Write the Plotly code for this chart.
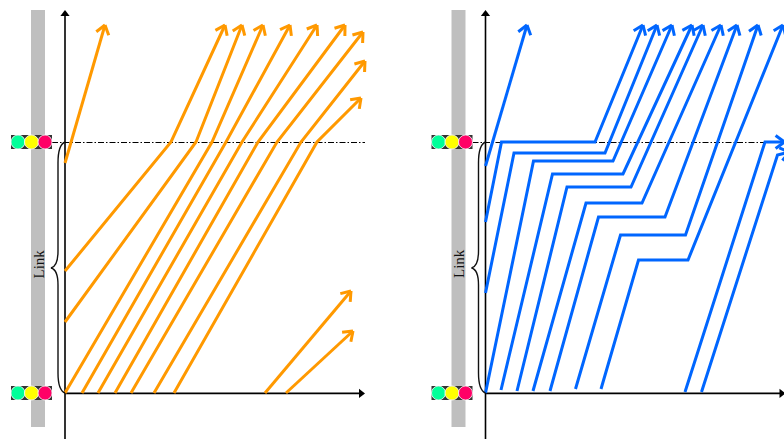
import math
import plotly.graph_objects as go

ORANGE = "#FF9900"
BLUE = "#0066FF"

# Trajectories: time along the x axis, distance above the stop line on y
left_x = [
    [0, 40],
    [0, 106, 160],
    [0, 131, 177],
    [0, 147, 198],
    [17, 161, 225],
    [33, 177, 252],
    [50, 193, 280],
    [66, 212, 298],
    [89, 236, 300],
    [109, 252, 296],
    [200, 286],
    [221, 288],
]
left_y = [
    [230, 368],
    [122, 251, 368],
    [71, 251, 368],
    [0, 251, 368],
    [0, 251, 368],
    [0, 251, 368],
    [0, 251, 368],
    [0, 251, 361],
    [0, 251, 332],
    [0, 251, 295],
    [0, 102],
    [0, 62],
]

right_x = [
    [0, 41.5],
    [0, 16, 109.5, 157.5],
    [0, 28.5, 119.5, 171.5],
    [0, 48, 127.5, 186.5],
    [15.5, 67, 137.5, 206.5],
    [31.5, 81.5, 145.5, 217.5],
    [47.5, 100.5, 156.5, 235.5],
    [64.5, 113, 179.5, 251.5],
    [90, 135, 200, 272.5],
    [115.5, 153, 202.5, 297.5],
    [199.5, 279.5, 299],
    [216, 292, 304],
]
right_y = [
    [227, 368],
    [171, 251, 251, 368],
    [100, 240, 240, 368],
    [0, 232, 232, 368],
    [3, 219, 219, 368],
    [2, 206, 206, 368],
    [2, 190, 190, 368],
    [2, 176, 176, 368],
    [4, 158, 158, 368],
    [4, 133, 133, 368],
    [1, 251, 251],
    [1, 238, 241],
]

stop_y = [0, 251]
light_colors = ["#00FF99", "#FFFF00", "#FF0066"]


def barbs(xs, ys, size=11, angle=36):
    # open arrow head, taken from the direction of the last segment
    a = math.atan2(ys[-1] - ys[-2], xs[-1] - xs[-2])
    out_x, out_y = [], []
    for s in (1, -1):
        t = a + math.pi + s * math.radians(angle)
        out_x += [xs[-1] + size * math.cos(t), xs[-1], None]
        out_y += [ys[-1] + size * math.sin(t), ys[-1], None]
    return out_x, out_y


fig = go.Figure()


def add_panel(xs_all, ys_all, color, xa, ya, x_end):
    # gray link bar sits left of the axis
    fig.add_shape(type="rect", xref=xa, yref=ya, x0=-34, x1=-20, y0=-34, y1=383,
                  fillcolor="#BFBFBF", line_width=0, layer="below")
    # signal boxes, above the bar but under the lamps
    for yv in stop_y:
        fig.add_shape(type="rect", xref=xa, yref=ya, x0=-54, x1=-13, y0=yv - 7, y1=yv + 7,
                      fillcolor="#333333", line_width=0, layer="below")
    # axes
    fig.add_trace(go.Scatter(x=[0, 0], y=[-46, 380], xaxis=xa, yaxis=ya, mode="lines",
                             line=dict(color="black", width=1.6)))
    fig.add_trace(go.Scatter(x=[0, x_end - 4], y=[-0.4, -0.4], xaxis=xa, yaxis=ya, mode="lines",
                             line=dict(color="black", width=1.6)))
    fig.add_trace(go.Scatter(x=[0], y=[379], xaxis=xa, yaxis=ya, mode="markers",
                             marker=dict(symbol="triangle-up", size=8, color="black")))
    fig.add_trace(go.Scatter(x=[x_end - 4], y=[-0.4], xaxis=xa, yaxis=ya, mode="markers",
                             marker=dict(symbol="triangle-right", size=8, color="black")))
    # stop line of the upstream signal
    fig.add_trace(go.Scatter(x=[-13, x_end], y=[250.5, 250.5], xaxis=xa, yaxis=ya, mode="lines",
                             line=dict(color="black", width=1.2, dash="6px,2px,1.5px,2px")))
    # brace
    fig.add_shape(type="path", xref=xa, yref=ya, line=dict(color="#111111", width=1.4),
                  path="M 0 0 C -5 2 -7 8 -7 20 L -7 108 C -7 120 -10 124 -14 125 "
                       "C -10 126 -7 130 -7 142 L -7 230 C -7 242 -5 249 0 251")
    # signals
    for yv in stop_y:
        fig.add_trace(go.Scatter(x=[-47, -33.5, -20], y=[yv] * 3, xaxis=xa, yaxis=ya, mode="markers",
                                 marker=dict(size=14, color=light_colors, line=dict(color="white", width=0.8))))
    fig.add_annotation(x=-26.5, y=129, xref=xa, yref=ya, text="Link", showarrow=False, textangle=-90,
                       font=dict(family="Liberation Serif", size=15, color="#111111"))
    # vehicle trajectories
    for xs, ys in zip(xs_all, ys_all):
        fig.add_trace(go.Scatter(x=xs, y=ys, xaxis=xa, yaxis=ya, mode="lines",
                                 line=dict(color=color, width=3)))
        bx, by = barbs(xs, ys)
        fig.add_trace(go.Scatter(x=bx, y=by, xaxis=xa, yaxis=ya, mode="lines",
                                 line=dict(color=color, width=3)))


add_panel(left_x, left_y, ORANGE, "x", "y", 300)
add_panel(right_x, right_y, BLUE, "x2", "y2", 300)

hidden = dict(visible=False, fixedrange=True)
fig.update_layout(
    width=784,
    height=439,
    margin=dict(l=0, r=0, t=0, b=0),
    paper_bgcolor="white",
    plot_bgcolor="white",
    showlegend=False,
    xaxis=dict(domain=[0, 0.5], range=[-65, 327], **hidden),
    yaxis=dict(domain=[0, 1], range=[-46, 393], **hidden),
    xaxis2=dict(domain=[0.5, 1], range=[-93.5, 298.5], anchor="y2", **hidden),
    yaxis2=dict(domain=[0, 1], range=[-46, 393], anchor="x2", **hidden),
)

fig.write_html("out.html", config={"displayModeBar": False},
               post_script="document.body.style.margin='0';")
